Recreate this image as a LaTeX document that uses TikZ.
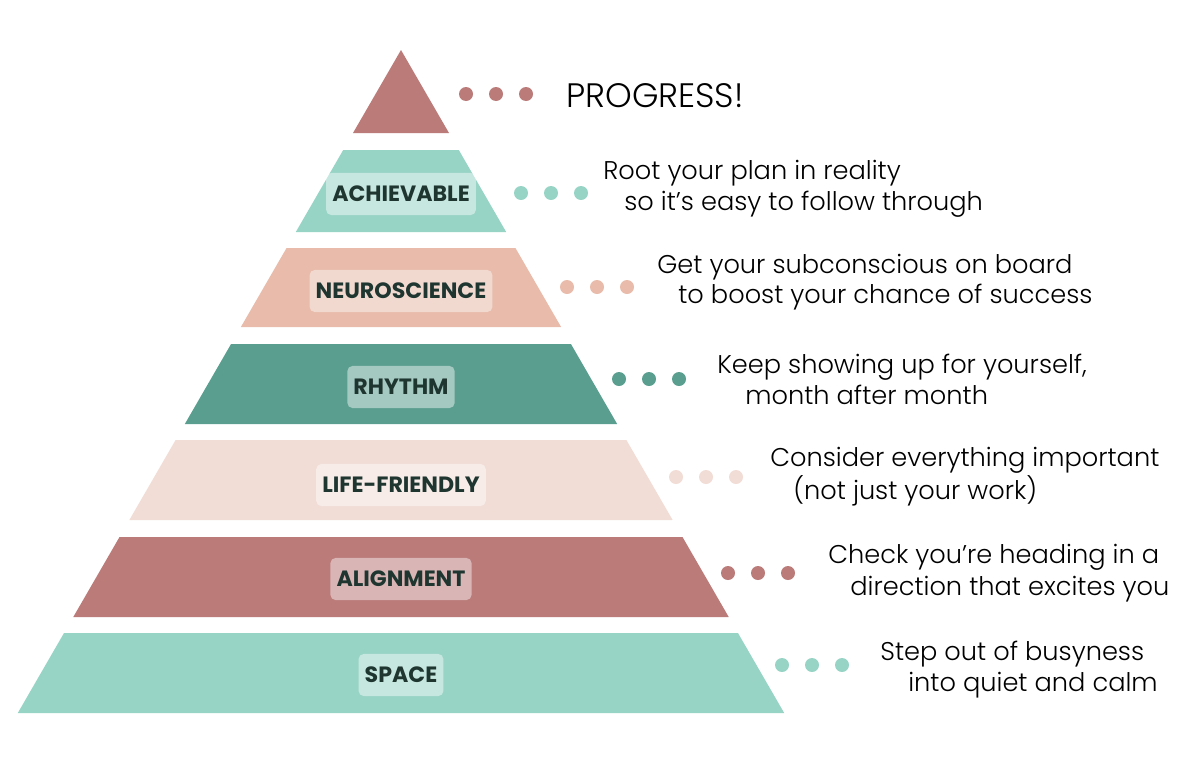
\documentclass[tikz,border=0pt]{standalone}
\usepackage{fontspec}
\setmainfont{Poppins}[UprightFont=* Light,BoldFont=* Bold]
\usepackage{tikz}
\usetikzlibrary{positioning,calc}
\definecolor{rose}{HTML}{BA7B79}
\definecolor{mint}{HTML}{98D4C5}
\definecolor{peach}{HTML}{E8BBAA}
\definecolor{deepteal}{HTML}{5A9E8F}
\definecolor{blush}{HTML}{F2DDD6}
\definecolor{ink}{HTML}{1E3530}
\tikzset{
  tag/.style={rectangle,rounded corners=3pt,fill=white,fill opacity=0.45,
    text opacity=1,text=ink,font=\bfseries\fontsize{12.6}{13}\selectfont,
    inner xsep=3.5pt,minimum height=24pt},
  note/.style={anchor=west,inner sep=0pt,text=black,
    font=\fontsize{14.6}{17}\selectfont},
}

\begin{document}
\begin{tikzpicture}[x=0.02cm,y=-0.02cm]
  \useasboundingbox (0,0) rectangle (1200,768);
  % pyramid
  \fill[rose] (401,50) -- (449,133) -- (353,133) -- cycle;
  \foreach \t/\b/\c in {150/232/mint,248/327/peach,344/424/deepteal,
      440/520/blush,537/617/rose,633/713/mint}
    \fill[\c] ({401-0.578*(\t-50)},\t) -- ({401+0.578*(\t-50)},\t)
      -- ({401+0.578*(\b-50)},\b) -- ({401-0.578*(\b-50)},\b) -- cycle;
  \node[tag] (achievable) at (401,194) {ACHIEVABLE};
  \node[tag] (neuro) at (401,291) {NEUROSCIENCE};
  \node[tag] (rhythm) at (401,387) {RHYTHM};
  \node[tag] (life) at (401,485) {LIFE-FRIENDLY};
  \node[tag] (align) at (401,579) {ALIGNMENT};
  \node[tag] (space) at (401,675) {SPACE};
  % dots
  \foreach \x/\y/\c in {466/94/rose,521/193/mint,567/287/peach,619/379/deepteal,
      676/477/blush,728/573/rose,782/665/mint}
    \foreach \k in {0,1,2}
      \fill[\c] (\x+30*\k,\y) circle[radius=0.14cm];
  % notes
  \node[note,font=\fontsize{19.3}{22}\selectfont] (progress) at (566,96) {PROGRESS!};
  \node[note] (achA) at (603,173) {Root your plan in reality};
  \node[note] (achB) at (624,204) {so it’s easy to follow through};
  \node[note] (neuA) at (657,267) {Get your subconscious on board};
  \node[note] (neuB) at (678,297) {to boost your chance of success};
  \node[note] (rhyA) at (717,367) {Keep showing up for yourself,};
  \node[note] (rhyB) at (745,395) {month after month};
  \node[note] (lifA) at (770,460) {Consider everything important};
  \node[note] (lifB) at (793,491) {(not just your work)};
  \node[note] (aliA) at (828,557) {Check you’re heading in a};
  \node[note] (aliB) at (850,589) {direction that excites you};
  \node[note] (spaA) at (880,654) {Step out of busyness};
  \node[note] (spaB) at (908,685) {into quiet and calm};
\end{tikzpicture}
\end{document}
